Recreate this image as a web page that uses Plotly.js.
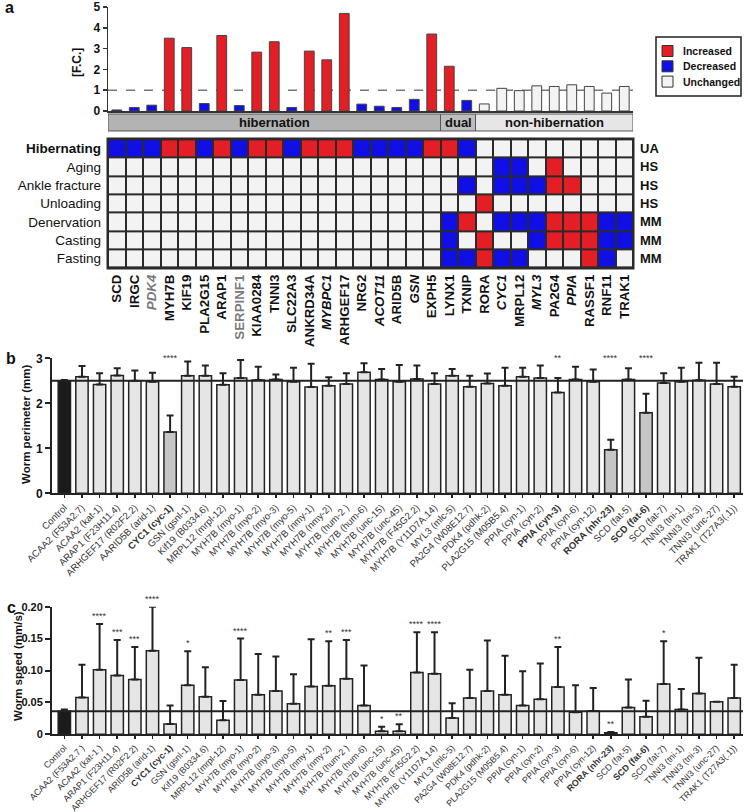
<!DOCTYPE html>
<html><head><meta charset="utf-8">
<script src="https://cdn.plot.ly/plotly-3.0.1.min.js"></script>
<style>html,body{margin:0;padding:0;background:#fff}#chart{width:748px;height:812px}</style>
</head><body><div id="chart"></div>
<script>
// ---------- Panel a : fold change + signature heatmap ----------
const genes = ['SCD','IRGC','PDK4','MYH7B','KIF19','PLA2G15','ARAP1','SERPINF1','KIAA0284','TNNI3','SLC22A3','ANKRD34A','MYBPC1','ARHGEF17','NRG2','ACOT11','ARID5B','GSN','EXPH5','LYNX1','TXNIP','RORA','CYC1','MRPL12','MYL3','PA2G4','PPIA','RASSF1','RNF11','TRAK1'];
const foldChange = [0.05,0.17,0.28,3.50,3.05,0.36,3.63,0.26,2.83,3.33,0.17,2.88,2.46,4.69,0.33,0.23,0.17,0.56,3.70,2.15,0.51,0.34,1.09,0.98,1.21,1.18,1.26,1.18,0.86,1.18];
const geneGroup = ['hibernation','hibernation','hibernation','hibernation','hibernation','hibernation','hibernation','hibernation','hibernation','hibernation','hibernation','hibernation','hibernation','hibernation','hibernation','hibernation','hibernation','hibernation','hibernation','dual','dual','non-hibernation','non-hibernation','non-hibernation','non-hibernation','non-hibernation','non-hibernation','non-hibernation','non-hibernation','non-hibernation'];
const groupNames = ['hibernation','dual','non-hibernation'];
const italicGenes = ['PDK4','MYBPC1','ACOT11','GSN','CYC1','MYL3','PPIA'];
const grayGenes = ['PDK4','SERPINF1'];
const conditions = ['Hibernating','Aging','Ankle fracture','Unloading','Denervation','Casting','Fasting'];
const species = ['UA','HS','HS','HS','MM','MM','MM'];
const legendItems = ['Increased','Decreased','Unchanged'];
// 1 = increased, -1 = decreased, 0 = unchanged
const hibernating   = [-1,-1,-1,1,1,-1,1,-1,1,1,-1,1,1,1,-1,-1,-1,-1,1, 1,-1, 0,0,0,0,0,0,0,0,0];
const aging         = [0,0,0,0,0,0,0,0,0,0,0,0,0,0,0,0,0,0,0, 0,0, 0,-1,-1,0,1,0,0,0,0];
const ankleFracture = [0,0,0,0,0,0,0,0,0,0,0,0,0,0,0,0,0,0,0, 0,-1, 0,-1,-1,-1,1,1,0,0,0];
const unloading     = [0,0,0,0,0,0,0,0,0,0,0,0,0,0,0,0,0,0,0, 0,0, 1,0,0,0,0,0,0,0,0];
const denervation   = [0,0,0,0,0,0,0,0,0,0,0,0,0,0,0,0,0,0,0, -1,1, 0,-1,-1,-1,1,1,1,-1,-1];
const casting       = [0,0,0,0,0,0,0,0,0,0,0,0,0,0,0,0,0,0,0, -1,0, 1,0,0,-1,1,1,1,-1,-1];
const fasting       = [0,0,0,0,0,0,0,0,0,0,0,0,0,0,0,0,0,0,0, -1,-1, 1,-1,-1,0,0,0,1,-1,0];

// ---------- Panel b : worm perimeter ----------
const strainsB = ['Control','ACAA2 (F53A2.7)','ACAA2 (kat-1)','ARAP1 (F23H11.4)','ARHGEF17 (R02F2.2)','AARID5B (arid-1)','CYC1 (cyc-1)','GSN (gsnl-1)','Kif19 (B0334.6)','MRPL12 (mrpl-12)','MYH7B (myo-1)','MYH7B (myo-2)','MYH7B (myo-3)','MYH7B (myo-5)','MYH7B (nmy-1)','MYH7B (nmy-2)','MYH7B (hum-2 )','MYH7B (hum-6)','MYH7B (unc-15)','MYH7B (unc-45)','MYH7B (F45G2.2)','MYH7B (Y11D7A.14)','MYL3 (mlc-5)','PA2G4 (W08E12.7)','PDK4 (pdhk-2)','PLA2G15 (M05B5.4)','PPIA (cyn-1)','PPIA (cyn-2)','PPIA (cyn-3)','PPIA (cyn-6)','PPIA (cyn-12)','RORA (nhr-23)','SCD (fat-5)','SCD (fat-6)','SCD (fat-7)','TNNI3 (tni-1)','TNNI3 (tni-3)','TNNI3 (unc-27)','TRAK1 (T27A3(.1))'];
const boldB = ['CYC1 (cyc-1)','PPIA (cyn-3)','RORA (nhr-23)','SCD (fat-6)'];
const perimeter    = [2.50,2.59,2.42,2.62,2.50,2.48,1.36,2.61,2.61,2.41,2.56,2.52,2.53,2.48,2.36,2.39,2.43,2.69,2.53,2.48,2.54,2.43,2.61,2.37,2.44,2.39,2.59,2.56,2.24,2.53,2.48,0.97,2.53,1.79,2.45,2.48,2.51,2.43,2.37];
const perimeterErr = [0.02,0.24,0.25,0.16,0.23,0.20,0.37,0.32,0.23,0.26,0.40,0.29,0.11,0.31,0.52,0.19,0.24,0.20,0.23,0.37,0.30,0.24,0.15,0.24,0.22,0.40,0.20,0.28,0.32,0.28,0.27,0.22,0.25,0.42,0.22,0.31,0.39,0.47,0.22];
const perimeterStars = ['','','','','','','****','','','','','','','','','','','','','','','','','','','','','','**','','','****','','****','','','','',''];

// ---------- Panel c : worm speed ----------
const strainsC = ['Control','ACAA2 (F53A2.7 )','ACAA2 (kat-1 )','ARAP1 (F23H11.4)','ARHGEF17 (R02F2.2)','ARID5B (arid-1)','CYC1 (cyc-1)','GSN (gsnl-1)','Kif19 (B0334.6)','MRPL12 (mrpl-12)','MYH7B (myo-1)','MYH7B (myo-2)','MYH7B (myo-3)','MYH7B (myo-5)','MYH7B (nmy-1)','MYH7B (nmy-2)','MYH7B (hum-2 )','MYH7B (hum-6)','MYH7B (unc-15)','MYH7B (unc-45)','MYH7B (F45G2.2)','MYH7B (Y11D7A.14)','MYL3 (mlc-5)','PA2G4 (W08E12.7)','PDK4 (pdhk-2)','PLA2G15 (M05B5.4)','PPIA (cyn-1)','PPIA (cyn-2)','PPIA (cyn-3)','PPIA (cyn-6)','PPIA (cyn-12)','RORA (nhr-23)','SCD (fat-5)','SCD (fat-6)','SCD (fat-7)','TNNI3 (tni-1)','TNNI3 (tni-3)','TNNI3 (unc-27)','TRAK1 (T27A3(.1))'];
const boldC = ['CYC1 (cyc-1)','RORA (nhr-23)','SCD (fat-6)'];
const speed    = [0.036,0.0575,0.101,0.092,0.086,0.131,0.016,0.077,0.059,0.022,0.085,0.062,0.068,0.048,0.075,0.076,0.087,0.045,0.0047,0.0047,0.097,0.095,0.0256,0.057,0.068,0.062,0.045,0.055,0.074,0.0345,0.0366,0.0026,0.042,0.0277,0.079,0.039,0.064,0.051,0.057];
const speedErr = [0.003,0.0515,0.072,0.056,0.051,0.069,0.029,0.053,0.046,0.030,0.065,0.064,0.054,0.046,0.074,0.070,0.061,0.063,0.007,0.011,0.063,0.065,0.023,0.044,0.079,0.061,0.054,0.056,0.063,0.0425,0.036,0.001,0.044,0.025,0.067,0.032,0.056,0,0.052];
const speedStars = ['','','****','***','***','****','','*','','','****','','','','','**','***','','*','**','****','****','','','','','','','**','','','**','','','*','','','',''];

// ---------- drawing ----------
const FONT = 'Arial, "Liberation Sans", Helvetica, sans-serif';
const RED = '#e31e25', BLUE = '#1010e6', WHITE = '#f3f3f3';
const statusName = v => v === 1 ? 'Increased' : (v === -1 ? 'Decreased' : 'Unchanged');
const statusColor = {Increased: RED, Decreased: BLUE, Unchanged: WHITE};
const Y = px => 1 - px / 812, X = px => px / 748;

const traces = [];
legendItems.forEach(st => {
  const xs = [], ys = [];
  genes.forEach((g, i) => { if (statusName(hibernating[i]) === st) { xs.push(g); ys.push(foldChange[i]); } });
  traces.push({type:'bar', name:st, x:xs, y:ys, xaxis:'x', yaxis:'y', width:0.56, showlegend:false,
    marker:{color:statusColor[st], line:{color:'#444', width:1}}});
});
traces.push({type:'heatmap', x:genes, y:conditions,
  z:[hibernating, aging, ankleFracture, unloading, denervation, casting, fasting],
  xaxis:'x2', yaxis:'y2', zmin:-1, zmax:1, colorscale:[[0,BLUE],[0.5,WHITE],[1,RED]],
  showscale:false, xgap:2, ygap:2, hoverinfo:'skip', showlegend:false});

const fillB = perimeterStars.map((s, i) => i === 0 ? '#1b1b1b' : (s === '****' ? '#c6c6c6' : '#e5e5e5'));
traces.push({type:'bar', x:strainsB, y:perimeter, xaxis:'x3', yaxis:'y3', width:0.7, showlegend:false,
  marker:{color:fillB, line:{color:'#222', width:1.5}},
  error_y:{type:'data', symmetric:false, array:perimeterErr, arrayminus:perimeter.map(() => 0), color:'#222', thickness:2, width:3.5}});
const fillC = speed.map((s, i) => i === 0 ? '#1b1b1b' : '#e5e5e5');
traces.push({type:'bar', x:strainsC, y:speed, xaxis:'x4', yaxis:'y4', width:0.7, showlegend:false,
  marker:{color:fillC, line:{color:'#222', width:1.5}},
  error_y:{type:'data', symmetric:false, array:speedErr, arrayminus:speed.map(() => 0), color:'#222', thickness:2, width:3.5}});

const shapes = [], annotations = [];
const note = o => annotations.push(Object.assign({showarrow:false}, o));
// dashed 1.0 line
shapes.push({type:'line', xref:'x domain', yref:'y', x0:0, x1:1, y0:1, y1:1, layer:'below', line:{color:'#777', width:1.5, dash:'dash'}});
// group band
const groupFill = {'hibernation':'#b3b3b3', 'dual':'#bdbdbd', 'non-hibernation':'#e6e6e6'};
let start = -0.5;
groupNames.forEach(gn => {
  const n = geneGroup.filter(g => g === gn).length;
  shapes.push({type:'rect', xref:'x', yref:'paper', x0:start, x1:start + n, y0:Y(131), y1:Y(114), fillcolor:groupFill[gn], line:{color:'#555', width:1}});
  note({xref:'x', yref:'paper', x:start + n / 2, y:Y(122.5), xanchor:'center', yanchor:'middle', text:'<b>' + gn + '</b>', font:{size:13, color:'#111'}});
  start += n;
});
// custom legend
shapes.push({type:'rect', xref:'paper', yref:'paper', x0:X(656), x1:X(741), y0:Y(96), y1:Y(37), fillcolor:'#fff', line:{color:'#222', width:1.5}});
legendItems.forEach((name, i) => {
  const cy = 51 + i * 15.3;
  shapes.push({type:'rect', xref:'paper', yref:'paper', x0:X(662), x1:X(673), y0:Y(cy + 5.5), y1:Y(cy - 5.5), fillcolor:statusColor[name], line:{color:'#333', width:1}});
  note({xref:'paper', yref:'paper', x:X(681), y:Y(cy), xanchor:'left', yanchor:'middle', text:'<b>' + name + '</b>', font:{size:10.5, color:'#111'}});
});
// heatmap grid background
shapes.push({type:'rect', xref:'x2 domain', yref:'y2 domain', x0:0, x1:1, y0:0, y1:1, fillcolor:'#2a2a2a', line:{color:'#2a2a2a', width:3}, layer:'below'});
conditions.forEach((c, i) => note({xref:'x2 domain', yref:'y2', x:1, y:c, xanchor:'left', yanchor:'middle', xshift:5, text:'<b>' + species[i] + '</b>', font:{size:13, color:'#111'}}));
// control reference lines
shapes.push({type:'line', xref:'x3 domain', yref:'y3', x0:0, x1:1, y0:perimeter[0], y1:perimeter[0], layer:'above', line:{color:'#222', width:2}});
shapes.push({type:'line', xref:'x4 domain', yref:'y4', x0:0, x1:1, y0:speed[0], y1:speed[0], layer:'above', line:{color:'#222', width:2}});
// stars
strainsB.forEach((s, i) => { if (perimeterStars[i]) note({xref:'x3', yref:'y3', x:s, y:3.0, xanchor:'center', yanchor:'middle', text:perimeterStars[i], font:{size:9, color:'#333'}}); });
strainsC.forEach((s, i) => { if (speedStars[i]) note({xref:'x4', yref:'y4', x:s, y:speed[i] + speedErr[i], xanchor:'center', yanchor:'bottom', yshift:1, text:speedStars[i], font:{size:9, color:'#333'}}); });
// axis titles
note({xref:'paper', yref:'paper', x:X(77), y:Y(63), xanchor:'center', yanchor:'middle', textangle:-90, text:'<b>[F.C.]</b>', font:{size:12, color:'#111'}});
note({xref:'paper', yref:'paper', x:X(26), y:Y(425), xanchor:'center', yanchor:'middle', textangle:-90, text:'<b>Worm perimeter (mm)</b>', font:{size:11.5, color:'#111'}});
note({xref:'paper', yref:'paper', x:X(18), y:Y(666), xanchor:'center', yanchor:'middle', textangle:-90, text:'<b>Worm speed (mm/s)</b>', font:{size:11.5, color:'#111'}});
// panel letters
[['a',3,8],['b',4,358],['c',5,607]].forEach(([t, x, y]) => note({xref:'paper', yref:'paper', x:X(x), y:Y(y), xanchor:'left', yanchor:'middle', text:'<b>' + t + '</b>', font:{size:16, color:'#111'}}));

const geneTick = genes.map(g => {
  let t = g;
  if (italicGenes.includes(g)) t = '<i>' + t + '</i>';
  if (grayGenes.includes(g)) t = '<span style="color:#7a7a7a">' + t + '</span>';
  return t;
});

const barX = (dom, anchor, cats, bolds, fs) => ({domain:dom, anchor:anchor, type:'category', categoryorder:'array', categoryarray:cats,
  range:[-0.7, cats.length - 0.5], tickvals:cats, ticktext:cats.map(c => bolds.includes(c) ? '<b>' + c + '</b>' : c),
  tickangle:-45, tickfont:{size:fs, color:'#333'}, ticks:'outside', ticklen:3, tickwidth:1.5, tickcolor:'#222',
  showline:true, linecolor:'#222', linewidth:2, showgrid:false, zeroline:false, fixedrange:true});

const layout = {
  width:748, height:812, margin:{l:0, r:0, t:0, b:0}, paper_bgcolor:'#fff', plot_bgcolor:'rgba(0,0,0,0)',
  font:{family:FONT, color:'#111'}, barmode:'overlay', showlegend:false,
  xaxis:{domain:[X(108), X(633)], anchor:'y', type:'category', categoryorder:'array', categoryarray:genes, range:[-0.5, 29.5],
    showticklabels:false, ticks:'', showline:true, linecolor:'#333', linewidth:1.5, showgrid:false, zeroline:false},
  yaxis:{domain:[Y(111), Y(7)], anchor:'x', range:[0, 5], tickvals:[0,1,2,3,4,5], ticks:'outside', ticklen:4, tickwidth:1.5, tickcolor:'#333',
    showline:true, linecolor:'#333', linewidth:1.5, showgrid:false, zeroline:false, tickfont:{size:12, weight:'bold'}, ticklabeloverflow:'allow'},
  xaxis2:{domain:[X(108), X(633)], anchor:'y2', type:'category', categoryorder:'array', categoryarray:genes, range:[-0.5, 29.5],
    tickvals:genes, ticktext:geneTick, tickangle:-90, tickfont:{size:13.3, weight:'bold', color:'#111'}, ticks:'', showline:false, showgrid:false, zeroline:false, ticklabelstandoff:3},
  yaxis2:{domain:[Y(268), Y(139)], anchor:'x2', type:'category', autorange:'reversed', tickvals:conditions,
    ticktext:conditions.map((c, i) => i === 0 ? '<b>' + c + '</b>' : c), tickfont:{size:13.5, color:'#111'}, ticks:'', showgrid:false, zeroline:false, ticklabelstandoff:6},
  xaxis3:barX([X(52), X(743)], 'y3', strainsB, boldB, 9.6),
  yaxis3:{domain:[Y(493.3), Y(358.3)], anchor:'x3', range:[0, 3], tickvals:[0,1,2,3], ticks:'outside', ticklen:5, tickwidth:2, tickcolor:'#222',
    showline:true, linecolor:'#222', linewidth:2, showgrid:false, zeroline:false, tickfont:{size:12, weight:'bold'}, ticklabeloverflow:'allow'},
  xaxis4:barX([X(52), X(743)], 'y4', strainsC, boldC, 8.9),
  yaxis4:{domain:[Y(734.3), Y(606.7)], anchor:'x4', range:[0, 0.2], tickvals:[0,0.05,0.1,0.15,0.2], ticktext:['0','0.05','0.10','0.15','0.20'],
    ticks:'outside', ticklen:5, tickwidth:2, tickcolor:'#222', showline:true, linecolor:'#222', linewidth:2, showgrid:false, zeroline:false,
    tickfont:{size:11, weight:'bold'}, ticklabeloverflow:'allow'},
  shapes:shapes, annotations:annotations
};
Plotly.newPlot('chart', traces, layout, {displayModeBar:false, staticPlot:true});
</script></body></html>
